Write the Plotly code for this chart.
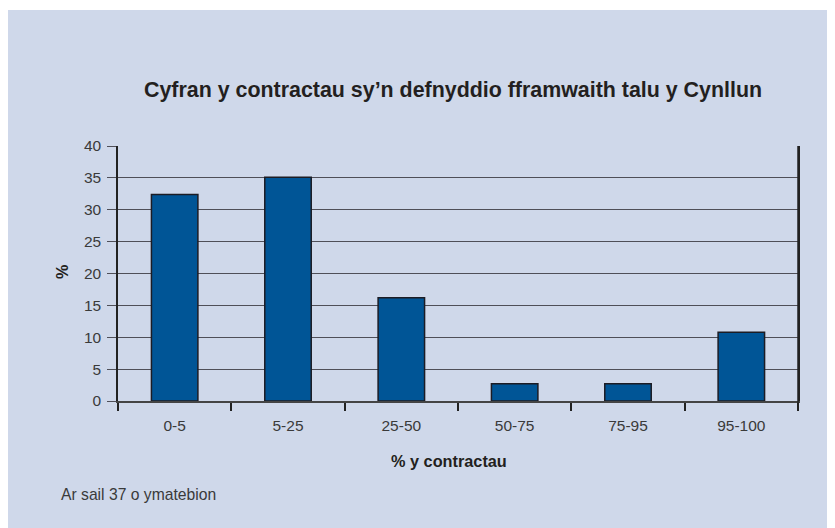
import plotly.graph_objects as go

categories = ["0-5", "5-25", "25-50", "50-75", "75-95", "95-100"]
values = [32.4, 35.1, 16.2, 2.7, 2.7, 10.8]
title_text = "Cyfran y contractau sy\u2019n defnyddio fframwaith talu y Cynllun"
x_title = "% y contractau"
y_title = "%"
note = "Ar sail 37 o ymatebion"

BG = "#cfd8ea"
FONT = "Liberation Sans, Arial, Helvetica, sans-serif"

# page has an 8px body margin, so figure coords = reference coords - 8
OFF = 8
W, H = 827, 520
L, R, T, B = 110, 37, 138, 127
PW, PH = W - L - R, H - T - B

def px_x(p):
    return (p - OFF - L) / PW

def px_y(p):
    return 1 - (p - OFF - T) / PH

fig = go.Figure()
fig.add_trace(go.Bar(
    x=categories, y=values,
    marker=dict(color="#005596", line=dict(color="#1c1c24", width=1.5)),
    width=0.41,
))

fig.update_layout(
    width=W, height=H,
    margin=dict(l=L, r=R, t=T, b=B),
    paper_bgcolor=BG, plot_bgcolor=BG,
    showlegend=False,
    font=dict(family=FONT, color="#3a3a3a", size=15),
    xaxis=dict(
        type="category", showgrid=False, tickson="boundaries",
        ticks="outside", ticklen=8, tickwidth=1.5, tickcolor="#222",
        showline=True, linecolor="#444", linewidth=1.5,
        tickfont=dict(size=15.5, color="#3a3a3a"),
        ticklabelstandoff=10,
        range=[-0.5, 5.5],
    ),
    yaxis=dict(
        range=[0, 40], dtick=5, showgrid=True, gridcolor="#4f4f58", gridwidth=1.2,
        ticks="outside", ticklen=9, tickwidth=1.2, tickcolor="#4f4f58",
        showline=True, linecolor="#222", linewidth=1.5, mirror=True,
        tickfont=dict(size=15.5, color="#3a3a3a"), zeroline=False,
        ticklabelstandoff=3,
    ),
    shapes=[
        dict(type="line", xref="paper", yref="paper", layer="above",
             x0=1, x1=1, y0=px_y(408), y1=1,
             line=dict(color="#222", width=1.5)),
        dict(type="rect", xref="paper", yref="paper", layer="above",
             x0=px_x(0), x1=px_x(840), y0=px_y(10), y1=px_y(0),
             fillcolor="white", line=dict(width=0)),
    ],
    annotations=[
        dict(text="<b>" + title_text + "</b>", xref="paper", yref="paper",
             x=px_x(453), y=px_y(90), xanchor="center", yanchor="middle",
             showarrow=False, font=dict(size=21.4, color="#231f20", family=FONT)),
        dict(text="<b>" + x_title + "</b>", xref="paper", yref="paper",
             x=px_x(449), y=px_y(461), xanchor="center", yanchor="middle",
             showarrow=False, font=dict(size=16.3, color="#231f20", family=FONT)),
        dict(text="<b>" + y_title + "</b>", xref="paper", yref="paper",
             x=px_x(62), y=px_y(272), xanchor="center", yanchor="middle",
             textangle=-90, showarrow=False,
             font=dict(size=16.3, color="#231f20", family=FONT)),
        dict(text=note, xref="paper", yref="paper",
             x=px_x(59), y=px_y(494), xanchor="left", yanchor="middle",
             showarrow=False, font=dict(size=15.7, color="#3a3a3a", family=FONT)),
    ],
)

fig.write_html("out.html")
